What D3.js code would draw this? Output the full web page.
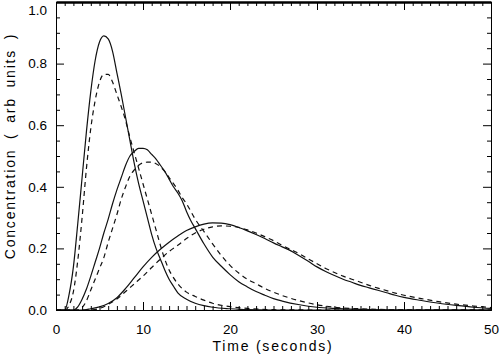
<!DOCTYPE html>
<html><head><meta charset="utf-8">
<script src="https://cdn.jsdelivr.net/npm/d3@7"></script>
<style>html,body{margin:0;padding:0;background:#fff;}svg{display:block;}</style>
</head><body>
<script>
// Time samples (seconds) and concentrations
const s1T = [0,1,1.5,2,2.5,3,3.5,4,4.5,5,5.5,6,6.5,7,7.5,8,8.5,9,9.5,10,10.5,11,11.5,12,12.5,13,13.5,14,15,16,17,18,20,22,25,30,40,50];
const s1C = [0,0,0.05,0.14,0.28,0.43,0.58,0.71,0.81,0.87,0.89,0.88,0.84,0.77,0.70,0.625,0.55,0.475,0.41,0.355,0.30,0.245,0.20,0.165,0.13,0.10,0.077,0.056,0.035,0.022,0.014,0.009,0.004,0.001,0,0,0,0];
const d1T = [0,1,1.5,2,2.5,3,3.5,4,4.5,5,5.5,6,6.5,7,7.5,8,8.5,9,9.5,10,10.5,11,11.5,12,12.5,13,13.5,14,15,16,17,18,20,22,25,30,40,50];
const d1C = [0,0,0.015,0.06,0.16,0.30,0.46,0.59,0.68,0.74,0.765,0.765,0.74,0.70,0.66,0.615,0.56,0.51,0.46,0.41,0.36,0.31,0.26,0.21,0.165,0.13,0.105,0.085,0.058,0.044,0.032,0.022,0.011,0.005,0.001,0,0,0];
const s2T = [0,2,2.5,3,3.5,4,4.5,5,5.5,6,6.5,7,7.5,8,8.5,9,9.5,10,10.5,11,11.5,12,12.5,13,13.5,14,14.5,15,15.5,16,17,18,19,20,21,22,23,24,25,26,28,30,32,35,40,50];
const s2C = [0,0,0.01,0.035,0.068,0.11,0.155,0.20,0.25,0.295,0.345,0.39,0.43,0.47,0.50,0.515,0.525,0.525,0.52,0.505,0.49,0.47,0.45,0.425,0.40,0.38,0.355,0.32,0.29,0.265,0.215,0.172,0.142,0.115,0.092,0.075,0.06,0.048,0.037,0.029,0.017,0.009,0.005,0.002,0,0];
const d2T = [0,2.5,3,3.5,4,4.5,5,5.5,6,6.5,7,7.5,8,8.5,9,9.5,10,10.5,11,11.5,12,12.5,13,13.5,14,14.5,15,16,17,18,19,20,21,22,23,24,25,26,28,30,32,35,40,50];
const d2C = [0,0,0.008,0.03,0.065,0.10,0.135,0.17,0.22,0.265,0.31,0.36,0.40,0.435,0.455,0.47,0.478,0.48,0.48,0.475,0.465,0.45,0.43,0.41,0.39,0.365,0.345,0.295,0.255,0.215,0.177,0.145,0.12,0.10,0.085,0.07,0.058,0.047,0.03,0.017,0.009,0.004,0.001,0];
const s3T = [0,3,4,5,6,7,8,9,10,11,12,13,14,15,16,17,18,19,20,21,22,23,24,25,26,27,28,29,30,31,32,33,34,35,36,37,38,39,40,42,44,46,48,50];
const s3C = [0,0,0.004,0.01,0.021,0.04,0.07,0.105,0.14,0.171,0.197,0.22,0.24,0.258,0.27,0.279,0.283,0.282,0.277,0.268,0.257,0.245,0.232,0.218,0.205,0.192,0.175,0.158,0.14,0.125,0.112,0.10,0.09,0.08,0.072,0.064,0.056,0.048,0.041,0.031,0.022,0.015,0.009,0.005];
const d3T = [0,4,5,6,7,8,9,10,11,12,13,14,15,16,17,18,19,20,21,22,23,24,25,26,27,28,29,30,31,32,33,34,35,36,37,38,39,40,42,44,46,48,50];
const d3C = [0,0,0.005,0.018,0.036,0.06,0.085,0.11,0.138,0.165,0.19,0.21,0.232,0.25,0.262,0.27,0.273,0.272,0.268,0.26,0.25,0.238,0.225,0.21,0.196,0.182,0.166,0.15,0.135,0.122,0.11,0.10,0.09,0.08,0.071,0.063,0.055,0.048,0.037,0.027,0.019,0.013,0.008];

const xTicks = [0,10,20,30,40,50];
const yTicks = [0.0,0.2,0.4,0.6,0.8,1.0];
const xTitle = "Time (seconds)";
const yTitle = "Concentration ( arb units )";

const series = [
  {t:s1T, c:s1C, dash:null},
  {t:d1T, c:d1C, dash:"5,4"},
  {t:s2T, c:s2C, dash:null},
  {t:d2T, c:d2C, dash:"5,4"},
  {t:s3T, c:s3C, dash:null},
  {t:d3T, c:d3C, dash:"5,4"}
];

const W = 500, H = 357;
const L = 56, R = 491, T = 2, B = 310;
const svg = d3.select("body").append("svg").attr("width", W).attr("height", H);
const x = d3.scaleLinear().domain([0,50]).range([L,R]);
const y = d3.scaleLinear().domain([0,1]).range([B,T]);
const font = "'Liberation Sans', Arial, Helvetica, sans-serif";

svg.append("clipPath").attr("id","clip").append("rect")
  .attr("x",L).attr("y",T).attr("width",R-L).attr("height",B-T);

const line = d3.line().x(d=>x(d[0])).y(d=>y(d[1])).curve(d3.curveMonotoneX);
const g = svg.append("g").attr("clip-path","url(#clip)");
series.forEach(s=>{
  g.append("path").datum(s.t.map((t,i)=>[t,s.c[i]]))
    .attr("d", line).attr("fill","none").attr("stroke","#111")
    .attr("stroke-width",1.2).attr("stroke-dasharray", s.dash);
});

// Axes with inward ticks (major and minor)
const xMinor = d3.range(0,51,1).filter(v=>v%10!==0);
const yMinor = d3.range(0,21).map(v=>v*0.05).filter((v,i)=>i%4!==0);
function addAxis(axisFn, scale, tr, vals, size, showLabels){
  const a = svg.append("g").attr("transform", tr)
    .call(axisFn(scale).tickValues(vals).tickSizeInner(-size).tickSizeOuter(0)
      .tickFormat(showLabels ? (axisFn===d3.axisLeft ? d3.format(".1f") : d3.format("d")) : ""));
  a.select(".domain").attr("stroke","#000");
  a.selectAll(".tick line").attr("stroke","#000");
  a.selectAll("text").attr("font-family",font).attr("font-size","13.5px").attr("fill","#000");
  return a;
}
const bx = addAxis(d3.axisBottom, x, `translate(0,${B})`, xTicks, 8, true);
bx.selectAll("text").attr("dy","0").attr("y",24);
addAxis(d3.axisBottom, x, `translate(0,${B})`, xMinor, 4, false);
const tx = addAxis(d3.axisTop, x, `translate(0,${T})`, xTicks, 8, false);
tx.select(".domain").attr("stroke-width",2.5);
addAxis(d3.axisTop, x, `translate(0,${T})`, xMinor, 4, false);
const ly = addAxis(d3.axisLeft, y, `translate(${L},0)`, yTicks, 8, true);
ly.selectAll("text").attr("x",-9);
ly.selectAll(".tick").filter(d=>d===1).select("text").attr("dy","0.95em");
addAxis(d3.axisLeft, y, `translate(${L},0)`, yMinor, 4, false);
addAxis(d3.axisRight, y, `translate(${R},0)`, yTicks, 8, false);
addAxis(d3.axisRight, y, `translate(${R},0)`, yMinor, 4, false);

svg.append("text").attr("x",273).attr("y",351).attr("text-anchor","middle")
  .attr("font-family",font).attr("font-size","14px").attr("letter-spacing","1.8px").text(xTitle);
svg.append("text").attr("transform",`translate(15,146) rotate(-90)`).attr("text-anchor","middle")
  .attr("font-family",font).attr("font-size","14px").attr("letter-spacing","1.8px")
  .attr("word-spacing","4px").text(yTitle);
</script>
</body></html>
